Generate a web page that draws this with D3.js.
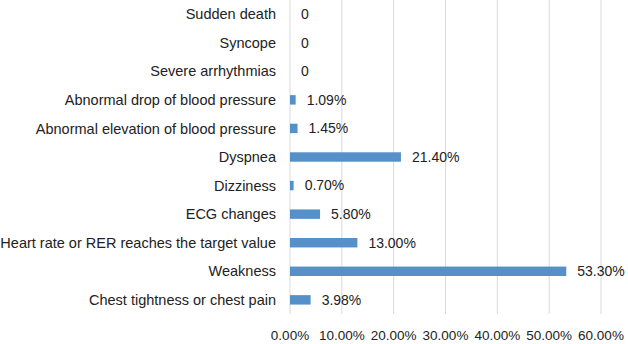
<!DOCTYPE html>
<html>
<head>
<meta charset="utf-8">
<script src="https://cdn.jsdelivr.net/npm/d3@7"></script>
<style>
  body { margin: 0; background: #fff; }
  text { font-family: "Liberation Sans", Arial, sans-serif; fill: #222; }
</style>
</head>
<body>
<svg id="chart"></svg>
<script>
// categories top to bottom
let categories = [
  "Sudden death",
  "Syncope",
  "Severe arrhythmias",
  "Abnormal drop of blood pressure",
  "Abnormal elevation of blood pressure",
  "Dyspnea",
  "Dizziness",
  "ECG changes",
  "Heart rate or RER reaches the target value",
  "Weakness",
  "Chest tightness or chest pain"
];
let values = [0, 0, 0, 1.09, 1.45, 21.40, 0.70, 5.80, 13.00, 53.30, 3.98];
let ticks = [0, 10, 20, 30, 40, 50, 60];

function createBars() {
  let w = 628, h = 344;
  let margin = {top: 0, left: 290, right: 27, bottom: 30};

  let svg = d3.select("#chart")
      .attr("width", w)
      .attr("height", h);

  let x = d3.scaleLinear()
      .domain([0, 60])
      .range([margin.left, w - margin.right]);

  let y = d3.scaleBand()
      .domain(categories)
      .range([margin.top, 314])
      .paddingInner(0.67)
      .paddingOuter(0.33);

  // gridlines
  svg.append("g")
    .selectAll("line")
    .data(ticks)
    .enter().append("line")
      .attr("x1", d => x(d))
      .attr("x2", d => x(d))
      .attr("y1", 0)
      .attr("y2", 314)
      .attr("stroke", "#d9d9d9")
      .attr("stroke-width", 1);

  // tick labels
  svg.append("g")
    .selectAll("text")
    .data(ticks)
    .enter().append("text")
      .attr("x", d => x(d))
      .attr("y", 340)
      .attr("text-anchor", "middle")
      .attr("font-size", 13.5)
      .text(d => d.toFixed(2) + "%");

  // bars
  svg.append("g")
    .selectAll("rect")
    .data(values)
    .enter().append("rect")
      .attr("x", x(0))
      .attr("y", (d, i) => y(categories[i]))
      .attr("width", d => x(d) - x(0))
      .attr("height", y.bandwidth())
      .attr("fill", "#5590c8");

  // category labels
  svg.append("g")
    .selectAll("text")
    .data(categories)
    .enter().append("text")
      .attr("x", 276)
      .attr("y", d => y(d) + y.bandwidth() / 2)
      .attr("dy", "0.35em")
      .attr("text-anchor", "end")
      .attr("font-size", 14.5)
      .text(d => d);

  // value labels
  svg.append("g")
    .selectAll("text")
    .data(values)
    .enter().append("text")
      .attr("x", d => x(d) + 11)
      .attr("y", (d, i) => y(categories[i]) + y.bandwidth() / 2)
      .attr("dy", "0.35em")
      .attr("font-size", 14)
      .text(d => d === 0 ? "0" : d.toFixed(2) + "%");
}

window.onload = function() {
  createBars();
};
</script>
</body>
</html>
